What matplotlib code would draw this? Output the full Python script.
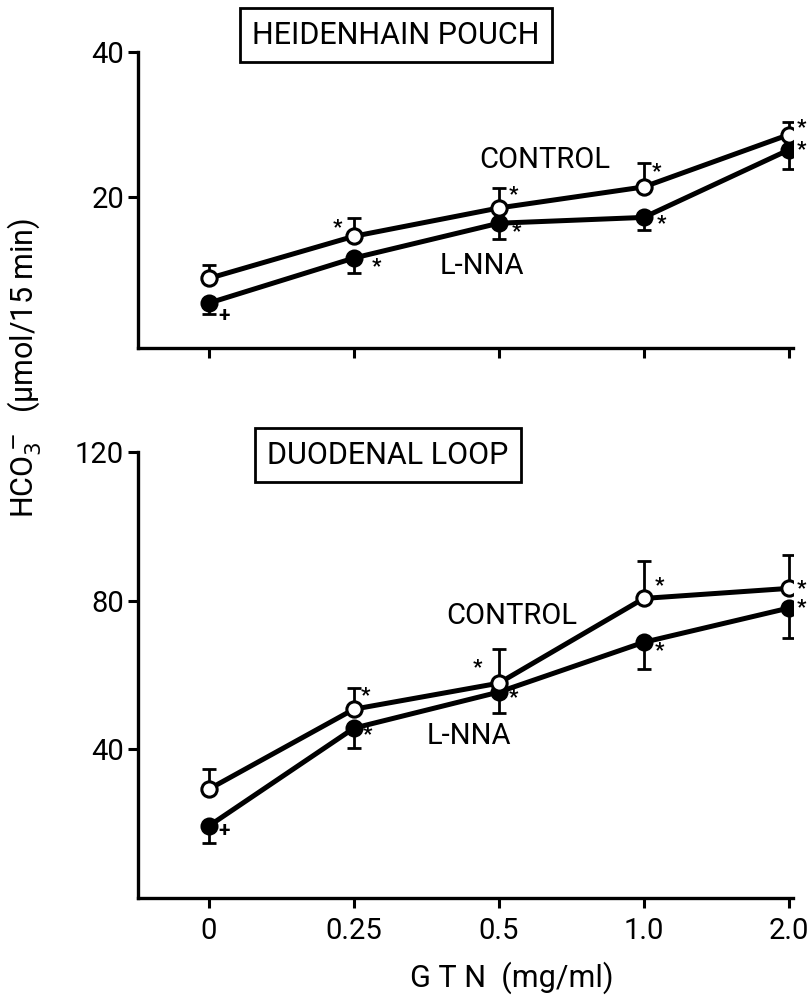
import numpy as np
import matplotlib.pyplot as plt

plt.rcParams['font.family'] = ['Roboto', 'DejaVu Sans']

doses = ['0', '0.25', '0.5', '1.0', '2.0']

# Heidenhain pouch
hp_control = [8.8, 14.6, 18.5, 21.4, 28.6]
hp_control_err = [1.8, 2.5, 2.8, 3.3, 1.7]
hp_lnna = [5.4, 11.6, 16.4, 17.2, 26.5]
hp_lnna_err = [1.5, 2.0, 2.2, 1.8, 2.6]
hp_control_sig = ['', '*', '*', '*', '*']
hp_lnna_sig = ['+', '*', '*', '*', '*']

# duodenal loop
dl_control = [29.3, 50.8, 57.8, 80.6, 83.3]
dl_control_err = [5.4, 5.6, 9.1, 10.2, 9.1]
dl_lnna = [19.4, 45.7, 55.4, 68.8, 78.0]
dl_lnna_err = [4.6, 5.4, 5.6, 7.3, 8.1]
dl_control_sig = ['', '*', '*', '*', '*']
dl_lnna_sig = ['+', '*', '*', '*', '*']

# offsets of the significance marks (pixels: right, down)
hp_control_off = [(0, 0), (-16, -9), (15, -13), (13, -15), (13, -7)]
hp_lnna_off = [(15, 12), (23, 9), (18, 8), (18, 6), (13, 0)]
dl_control_off = [(0, 0), (12, -14), (-21, -15), (16, -13), (13, 0)]
dl_lnna_off = [(15, 5), (14, 7), (15, 6), (16, 8), (13, 0)]

W, H = 807, 999
fig = plt.figure(figsize=(W / 100, H / 100), dpi=100)

def px_axes(left, top, right, bottom):
    return fig.add_axes([left / W, 1 - bottom / H, (right - left) / W, (bottom - top) / H])

ax1 = px_axes(138, 52, 793, 348)
ax2 = px_axes(138, 452, 793, 898)

x = np.arange(len(doses))
lw = 3.6

def panel(ax, ctrl, ctrl_err, lnna, lnna_err, csig, lsig, coff, loff, ylim, yticks):
    zeros = np.zeros(len(x))
    ax.errorbar(x, ctrl, yerr=[zeros, ctrl_err], fmt='none', ecolor='black',
                elinewidth=2, capsize=5, capthick=2, zorder=2)
    ax.errorbar(x, lnna, yerr=[lnna_err, zeros], fmt='none', ecolor='black',
                elinewidth=2, capsize=5, capthick=2, zorder=2)
    ax.plot(x, lnna, '-o', color='black', lw=lw, ms=11, mfc='black', mec='black',
            mew=2, zorder=3)
    ax.plot(x, ctrl, '-o', color='black', lw=lw, ms=11, mfc='white', mec='black',
            mew=2.2, zorder=4)
    for xi, yi, s, (dx, dy) in zip(x, ctrl, csig, coff):
        if s:
            ax.annotate(s, (xi, yi), xytext=(dx * 0.72, -dy * 0.72), textcoords='offset points',
                        ha='center', va='center', fontsize=15, fontweight='bold',
                        annotation_clip=False)
    for xi, yi, s, (dx, dy) in zip(x, lnna, lsig, loff):
        if s:
            ax.annotate(s, (xi, yi), xytext=(dx * 0.72, -dy * 0.72), textcoords='offset points',
                        ha='center', va='center', fontsize=15, fontweight='bold',
                        annotation_clip=False)
    ax.set_xlim(-0.49, 4.03)
    ax.set_ylim(*ylim)
    ax.set_yticks(yticks)
    ax.set_xticks(x)
    for s in ['top', 'right']:
        ax.spines[s].set_visible(False)
    for s in ['left', 'bottom']:
        ax.spines[s].set_linewidth(2.4)
    ax.tick_params(axis='both', direction='out', width=2.2, length=7, labelsize=21)
    ax.tick_params(axis='y', pad=3)

panel(ax1, hp_control, hp_control_err, hp_lnna, hp_lnna_err,
      hp_control_sig, hp_lnna_sig, hp_control_off, hp_lnna_off, (-0.8, 40), [20, 40])
ax1.set_xticklabels([])
panel(ax2, dl_control, dl_control_err, dl_lnna, dl_lnna_err,
      dl_control_sig, dl_lnna_sig, dl_control_off, dl_lnna_off, (0, 120), [40, 80, 120])
ax2.set_xticklabels(doses, fontsize=21)
ax2.tick_params(axis='x', pad=7)

# series labels
ax1.text(545 / W, 1 - 160 / H, 'CONTROL', transform=fig.transFigure, ha='center', va='center', fontsize=21)
ax1.text(482 / W, 1 - 266 / H, 'L-NNA', transform=fig.transFigure, ha='center', va='center', fontsize=21)
ax2.text(512 / W, 1 - 616 / H, 'CONTROL', transform=fig.transFigure, ha='center', va='center', fontsize=21)
ax2.text(469 / W, 1 - 736 / H, 'L-NNA', transform=fig.transFigure, ha='center', va='center', fontsize=21)

# panel titles
box = dict(boxstyle='square,pad=0.4', fc='white', ec='black', lw=2)
fig.text(396 / W, 1 - 35 / H, 'HEIDENHAIN POUCH', ha='center', va='center', fontsize=22, bbox=box)
fig.text(388 / W, 1 - 455 / H, 'DUODENAL LOOP', ha='center', va='center', fontsize=22, bbox=box)

fig.text(25 / W, 1 - 368 / H, 'HCO$_3^-$  (µmol/15 min)', rotation=90,
         ha='center', va='center', fontsize=22)
fig.text(512 / W, 1 - 978 / H, 'G T N  (mg/ml)', ha='center', va='center', fontsize=22)

fig.savefig('out.png', dpi=100)
